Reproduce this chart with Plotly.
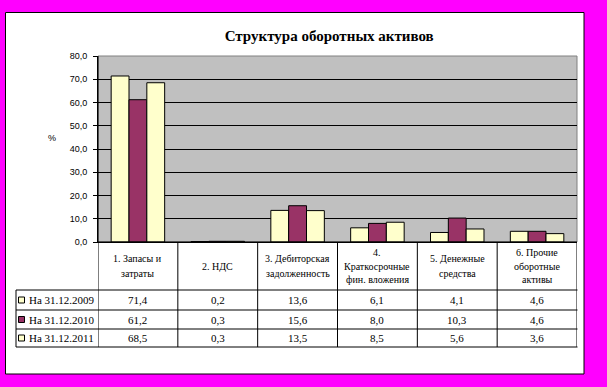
import plotly.graph_objects as go

categories = ["1. Запасы и затраты", "2. НДС", "3. Дебиторская задолженность",
              "4. Краткосрочные фин. вложения", "5. Денежные средства",
              "6. Прочие оборотные активы"]
header_lines = [["1. Запасы и", "затраты"], ["2. НДС"], ["3. Дебиторская", "задолженность"],
                ["4.", "Краткосрочные", "фин. вложения"], ["5. Денежные", "средства"],
                ["6. Прочие", "оборотные", "активы"]]
series_names = ["На 31.12.2009", "На 31.12.2010", "На 31.12.2011"]
v2009 = [71.4, 0.2, 13.6, 6.1, 4.1, 4.6]
v2010 = [61.2, 0.3, 15.6, 8.0, 10.3, 4.6]
v2011 = [68.5, 0.3, 13.5, 8.5, 5.6, 3.6]
series_values = [v2009, v2010, v2011]
colors = ["#FFFFCC", "#993366", "#FFFFCC"]
y_ticks = [0, 10, 20, 30, 40, 50, 60, 70, 80]
y_ticklabels = ["0,0", "10,0", "20,0", "30,0", "40,0", "50,0", "60,0", "70,0", "80,0"]

W, H = 607, 387
L, R, T, B = 98, 30, 56, 145
PW, PH = W - L - R, H - T - B


def px(x):
    return (x - L) / PW


def py(y):
    return (H - B - y) / PH


def fmt(v):
    return f"{v:.1f}".replace(".", ",")


serif = "Liberation Serif, Times New Roman, serif"
sans = "Liberation Sans, Arial, sans-serif"

fig = go.Figure()
for name, vals, col in zip(series_names, series_values, colors):
    fig.add_trace(go.Bar(x=categories, y=vals, name=name, marker=dict(color=col, line=dict(color="black", width=1)),
                         showlegend=False, hoverinfo="skip"))

shapes = []
mag = "#FF00FF"
for x0, y0, x1, y1 in [(0, 0, W, 12), (0, 0, 5, H), (584, 0, W, H), (0, 374, W, H)]:
    shapes.append(dict(type="rect", xref="paper", yref="paper", x0=px(x0), x1=px(x1), y0=py(y0), y1=py(y1),
                       fillcolor=mag, line=dict(width=0), layer="above"))
shapes.append(dict(type="rect", xref="paper", yref="paper", x0=px(5.5), x1=px(584), y0=py(12.5), y1=py(374),
                   line=dict(color="black", width=1), layer="above"))
for i in range(len(categories) + 1):
    shapes.append(dict(type="line", xref="x", yref="paper", x0=i - 0.5, x1=i - 0.5, y0=py(242), y1=py(347),
                       line=dict(color="black", width=1)))
shapes.append(dict(type="line", xref="paper", yref="paper", x0=px(16), x1=px(16), y0=py(290), y1=py(347),
                   line=dict(color="black", width=1)))
for yy in [290, 310, 329, 347]:
    shapes.append(dict(type="line", xref="paper", yref="paper", x0=px(16), x1=px(577.5), y0=py(yy), y1=py(yy),
                       line=dict(color="black", width=1)))

annotations = []
for i, lines in enumerate(header_lines):
    n = len(lines)
    sp = 15 if n == 2 else 13.5
    for k, ln in enumerate(lines):
        yc = 266 + (k - (n - 1) / 2) * sp
        annotations.append(dict(text=ln, xref="x", yref="paper", x=categories[i], y=py(yc), showarrow=False,
                                xanchor="center", yanchor="middle", font=dict(family=serif, size=10, color="black")))
row_centers = [300, 319.5, 338]
for r, (name, vals, col) in enumerate(zip(series_names, series_values, colors)):
    yc = row_centers[r]
    for i, v in enumerate(vals):
        annotations.append(dict(text=fmt(v), xref="x", yref="paper", x=categories[i], y=py(yc), showarrow=False,
                                xanchor="center", yanchor="middle", font=dict(family=serif, size=11, color="black")))
    annotations.append(dict(text=name, xref="paper", yref="paper", x=px(26.5), y=py(yc), showarrow=False,
                            xanchor="left", yanchor="middle", font=dict(family=serif, size=11, color="black")))
    shapes.append(dict(type="rect", xref="paper", yref="paper", x0=px(18.5), x1=px(24.5), y0=py(yc - 3), y1=py(yc + 3),
                       fillcolor=col, line=dict(color="black", width=1)))

annotations.append(dict(text="%", xref="paper", yref="paper", x=px(52), y=py(138), showarrow=False,
                        xanchor="center", yanchor="middle", font=dict(family=sans, size=9, color="black")))

fig.update_layout(
    width=W, height=H, margin=dict(l=L, r=R, t=T, b=B, pad=0),
    paper_bgcolor="white", plot_bgcolor="#C0C0C0",
    barmode="group", bargap=0.33, bargroupgap=0,
    title=dict(text="<b>Структура оборотных активов</b>", x=293 / W, xanchor="center", xref="paper",
               y=1 - 36 / H, yanchor="middle", yref="container",
               font=dict(family=serif, size=15, color="black")),
    xaxis=dict(type="category", range=[-0.5, 5.5], showticklabels=False, showgrid=False, zeroline=False,
               showline=True, linecolor="black", linewidth=1, mirror=False, ticks=""),
    yaxis=dict(range=[0, 80], tickvals=y_ticks, ticktext=y_ticklabels, showgrid=True, gridcolor="black",
               gridwidth=1, zeroline=False, showline=True, linecolor="black", linewidth=1, ticks="outside",
               ticklen=4, tickcolor="black", ticklabelstandoff=4,
               tickfont=dict(family=sans, size=9, color="black")),
    shapes=shapes, annotations=annotations,
)
fig.add_shape(type="rect", xref="paper", yref="paper", x0=0, x1=1, y0=0, y1=1,
              line=dict(color="#808080", width=1), layer="below")
fig.add_shape(type="line", xref="paper", yref="paper", x0=0, x1=0, y0=0, y1=1,
              line=dict(color="black", width=1))
fig.add_shape(type="line", xref="paper", yref="paper", x0=0, x1=1, y0=0, y1=0,
              line=dict(color="black", width=1))

fig.write_html("out.html", config={"displayModeBar": False},
               post_script="document.body.style.margin='0';document.body.style.background='#FF00FF';")
